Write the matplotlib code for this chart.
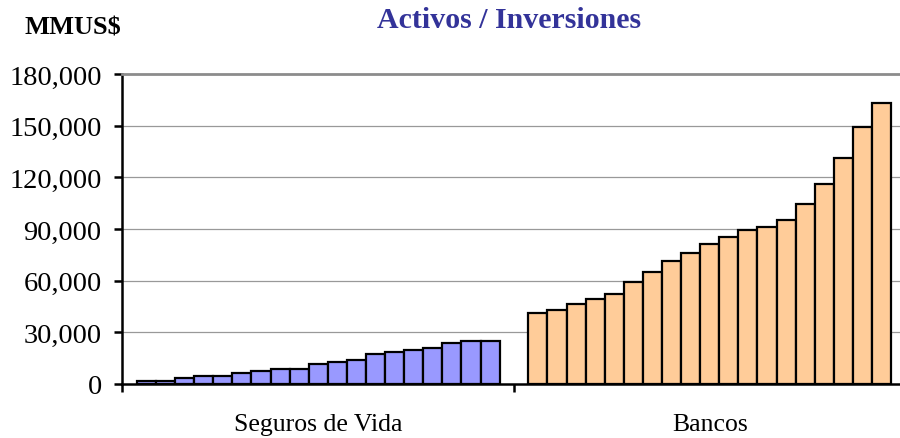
import matplotlib
matplotlib.use("Agg")
import matplotlib.pyplot as plt
import numpy as np

# datos (MMUS$)
categorias = ["Seguros de Vida", "Bancos"]
seguros = [1900, 1900, 3400, 4800, 4800, 6600, 7600, 8900, 8900, 11800,
           12900, 14200, 17400, 18400, 19700, 20900, 23900, 25200, 25200]
bancos = [41100, 42900, 46700, 49600, 52300, 59300, 64900, 71600, 75900, 81300,
          85500, 89600, 91100, 95000, 104800, 116000, 131100, 149000, 162900]
yticks = [0, 30000, 60000, 90000, 120000, 150000, 180000]

plt.rcParams['font.family'] = ['Liberation Serif', 'DejaVu Serif']

fig = plt.figure(figsize=(9, 4.39), dpi=100)
ax = fig.add_axes([122.5 / 900, 54 / 439, 783 / 900, 310 / 439])

ancho_cat = 20.5
x1 = 1.25 + np.arange(len(seguros))
x2 = ancho_cat + 1.25 + np.arange(len(bancos))
ax.bar(x1, seguros, width=1.0, color='#9999FF', edgecolor='black', linewidth=1.6, zorder=3)
ax.bar(x2, bancos, width=1.0, color='#FFCC99', edgecolor='black', linewidth=1.6, zorder=3)

ax.set_xlim(0, 2 * ancho_cat)
ax.set_ylim(0, 180000)
ax.set_yticks(yticks)
ax.set_yticklabels([f"{v:,}" for v in yticks], fontsize=20.5)
for v in yticks[1:-1]:
    ax.axhline(v, color='#999999', linewidth=0.9, zorder=1)

# ticks del eje x en los limites de categoria, etiquetas centradas
ax.set_xticks([0, ancho_cat, 2 * ancho_cat])
ax.set_xticklabels([])
ax.set_xticks([ancho_cat / 2, 1.5 * ancho_cat], minor=True)
ax.set_xticklabels(categorias, minor=True, fontsize=18.5)
ax.tick_params(axis='x', which='minor', length=0, pad=21)
ax.tick_params(axis='x', which='major', length=6, width=1.8, direction='out')
ax.tick_params(axis='y', length=6, width=1.8, direction='out', pad=9)

ax.spines['left'].set_linewidth(1.8)
ax.spines['bottom'].set_linewidth(1.8)
ax.spines['top'].set_color('#8c8c8c')
ax.spines['top'].set_linewidth(2.0)
ax.spines['right'].set_visible(False)

fig.text(509 / 900, 1 - 21 / 439, "Activos / Inversiones", ha='center', va='center',
         fontsize=21.5, fontweight='bold', color='#333399')
fig.text(73 / 900, 1 - 28 / 439, "MMUS$", ha='center', va='center',
         fontsize=19, fontweight='bold')

fig.savefig("out.png", dpi=100)
